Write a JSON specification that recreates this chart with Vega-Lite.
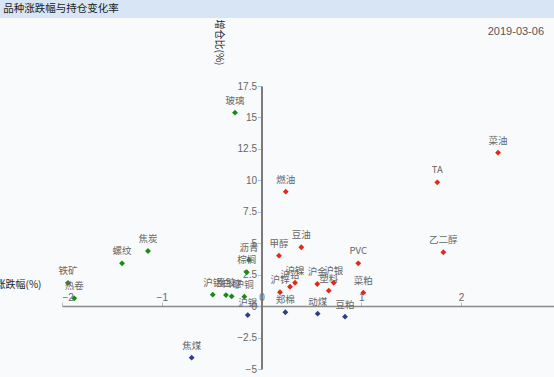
{
  "$schema": "https://vega.github.io/schema/vega-lite/v6.json",
  "width": 492,
  "height": 283,
  "autosize": {"type": "none"},
  "padding": {"left": 62, "top": 86, "right": 0, "bottom": 8},
  "background": "#f9fafc",
  "config": {"view": {"stroke": null}},
  "layer": [
    {
      "data": {"name": "pts"},
      "mark": {"type": "point", "shape": "diamond", "filled": true, "size": 34, "opacity": 1},
      "encoding": {
        "x": {
          "field": "x", "type": "quantitative",
          "scale": {"domain": [-2, 2.932], "nice": false, "zero": false},
          "axis": {
            "orient": "top", "offset": -220.1, "values": [-2, -1, 0, 1, 2], "tickCount": 20, "format": ".3~g", "labelOverlap": false, "grid": false,
            "domainColor": "#8a8a8a", "domainWidth": 1.5,
            "tickColor": "#a8c2da", "tickSize": 4, "labelPadding": 0,
            "labelColor": "#666", "labelFont": "Liberation Sans", "labelFontSize": 10,
            "title": "涨跌幅(%)", "titleX": -21, "titleY": -22, "titleAlign": "right", "titleBaseline": "middle",
            "titleFont": "Noto Sans CJK SC", "titleFontSize": 10, "titleFontWeight": "normal", "titleColor": "#222"
          }
        },
        "y": {
          "field": "y", "type": "quantitative",
          "scale": {"domain": [-5, 17.5], "nice": false, "zero": false},
          "axis": {
            "orient": "left", "offset": -199.5, "values": [-5, -2.5, 0, 2.5, 5, 7.5, 10, 12.5, 15, 17.5], "tickCount": 20, "format": ".3~g", "labelOverlap": false, "grid": false,
            "domainColor": "#7a7a7a", "domainWidth": 2,
            "tickColor": "#a8c2da", "tickSize": 4, "labelPadding": 1,
            "labelColor": "#666", "labelFont": "Liberation Sans", "labelFontSize": 10,
            "title": "增仓比(%)", "titleAngle": 90, "titleX": -43.5, "titleY": -44, "titleAlign": "center", "titleBaseline": "middle",
            "titleFont": "Noto Sans CJK SC", "titleFontSize": 10, "titleFontWeight": "normal", "titleColor": "#222"
          }
        },
        "color": {
          "field": "group", "type": "nominal",
          "scale": {"domain": ["down_up", "up_up", "oi_down"], "range": ["#178a17", "#e2281b", "#2c3f8c"]},
          "legend": null
        }
      }
    },
    {
      "data": {"values": [{"title": "品种涨跌幅与持仓变化率", "date": "2019-03-06"}]},
      "mark": {"type": "rect", "color": "#d8e5f5", "clip": false},
      "encoding": {
        "x": {"datum": -2.63, "type": "quantitative", "scale": {"domain": [-2, 2.932], "nice": false, "zero": false}},
        "x2": {"datum": 2.94},
        "y": {"datum": 24.4, "type": "quantitative", "scale": {"domain": [-5, 17.5], "nice": false, "zero": false}},
        "y2": {"datum": 22.91}
      }
    },
    {
      "data": {"values": [{"title": "品种涨跌幅与持仓变化率", "date": "2019-03-06"}]},
      "mark": {"type": "text", "align": "left", "baseline": "middle", "font": "Noto Sans CJK SC", "fontSize": 10.5, "color": "#222"},
      "encoding": {
        "x": {"datum": -2.59, "type": "quantitative", "scale": {"domain": [-2, 2.932], "nice": false, "zero": false}},
        "y": {"datum": 23.62, "type": "quantitative", "scale": {"domain": [-5, 17.5], "nice": false, "zero": false}},
        "text": {"field": "title"}
      }
    },
    {
      "data": {"values": [{"title": "品种涨跌幅与持仓变化率", "date": "2019-03-06"}]},
      "mark": {"type": "text", "align": "right", "baseline": "middle", "font": "Liberation Sans", "fontSize": 11, "color": "#555"},
      "encoding": {
        "x": {"datum": 2.832, "type": "quantitative", "scale": {"domain": [-2, 2.932], "nice": false, "zero": false}},
        "y": {"datum": 21.79, "type": "quantitative", "scale": {"domain": [-5, 17.5], "nice": false, "zero": false}},
        "text": {"field": "date"}
      }
    },
    {
      "data": {"name": "pts"},
      "mark": {"type": "text", "dy": -12, "baseline": "middle", "align": "center", "font": "Noto Sans CJK SC", "fontSize": 9.5, "color": "#666"},
      "encoding": {
        "x": {"field": "x", "type": "quantitative", "scale": {"domain": [-2, 2.932], "nice": false, "zero": false}},
        "y": {"field": "y", "type": "quantitative", "scale": {"domain": [-5, 17.5], "nice": false, "zero": false}},
        "text": {"field": "name"}
      }
    }
  ],
  "datasets": {
    "pts": [
      {"name": "玻璃", "x": -0.266, "y": 15.38, "group": "down_up"},
      {"name": "燃油", "x": 0.243, "y": 9.1, "group": "up_up"},
      {"name": "豆油", "x": 0.399, "y": 4.68, "group": "up_up"},
      {"name": "菜油", "x": 2.371, "y": 12.2, "group": "up_up"},
      {"name": "TA", "x": 1.762, "y": 9.84, "group": "up_up"},
      {"name": "乙二醇", "x": 1.823, "y": 4.28, "group": "up_up"},
      {"name": "螺纹", "x": -1.398, "y": 3.4, "group": "down_up"},
      {"name": "焦炭", "x": -1.138, "y": 4.38, "group": "down_up"},
      {"name": "铁矿", "x": -1.94, "y": 1.84, "group": "down_up"},
      {"name": "热卷", "x": -1.877, "y": 0.62, "group": "down_up"},
      {"name": "沥青", "x": -0.125, "y": 3.67, "group": "down_up"},
      {"name": "棕榈", "x": -0.148, "y": 2.69, "group": "down_up"},
      {"name": "沪铝", "x": -0.489, "y": 0.91, "group": "down_up"},
      {"name": "橡胶", "x": -0.356, "y": 0.88, "group": "down_up"},
      {"name": "白糖", "x": -0.299, "y": 0.78, "group": "down_up"},
      {"name": "沪铜", "x": -0.172, "y": 0.75, "group": "down_up"},
      {"name": "沪锡", "x": -0.138, "y": -0.71, "group": "oi_down"},
      {"name": "焦煤", "x": -0.7, "y": -4.1, "group": "oi_down"},
      {"name": "郑棉", "x": 0.239, "y": -0.49, "group": "oi_down"},
      {"name": "动煤", "x": 0.563, "y": -0.6, "group": "oi_down"},
      {"name": "豆粕", "x": 0.837, "y": -0.84, "group": "oi_down"},
      {"name": "甲醇", "x": 0.175, "y": 4.01, "group": "up_up"},
      {"name": "沪锌", "x": 0.185, "y": 1.1, "group": "up_up"},
      {"name": "沪铅", "x": 0.286, "y": 1.54, "group": "up_up"},
      {"name": "沪镍", "x": 0.336, "y": 1.86, "group": "up_up"},
      {"name": "沪金", "x": 0.559, "y": 1.76, "group": "up_up"},
      {"name": "塑料", "x": 0.674, "y": 1.23, "group": "up_up"},
      {"name": "沪银", "x": 0.724, "y": 1.86, "group": "up_up"},
      {"name": "PVC", "x": 0.97, "y": 3.4, "group": "up_up"},
      {"name": "菜粕", "x": 1.021, "y": 1.07, "group": "up_up"}
    ]
  }
}
